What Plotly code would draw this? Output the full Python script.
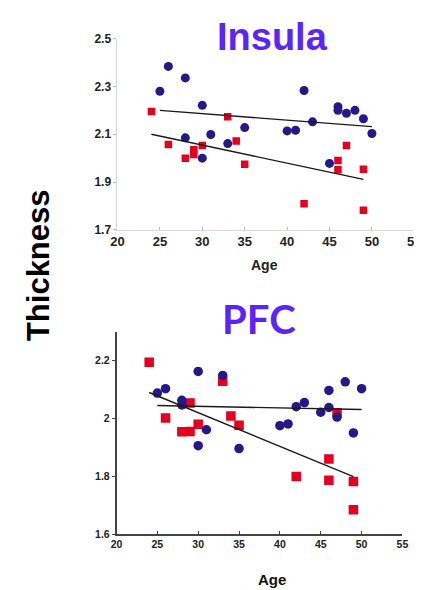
import plotly.graph_objects as go

W, H = 422, 590

# ---------------- Insula data ----------------
ins_blue_age = [25, 26, 28, 28, 30, 30, 31, 33, 35, 40, 41, 42, 43, 45, 46, 46, 47, 48, 49, 50]
ins_blue_thk = [2.28, 2.384, 2.336, 2.085, 2.221, 2.0, 2.099, 2.061, 2.128, 2.114, 2.117, 2.283,
                2.152, 1.978, 2.215, 2.2, 2.188, 2.2, 2.165, 2.103]
ins_red_age = [24, 26, 28, 29, 29, 30, 33, 34, 35, 42, 46, 46, 47, 49, 49]
ins_red_thk = [2.195, 2.057, 2.0, 2.035, 2.015, 2.053, 2.173, 2.072, 1.974, 1.809, 1.99, 1.951,
               2.053, 1.953, 1.782]
ins_blue_fit_age = [25, 50]
ins_blue_fit_thk = [2.200, 2.132]
ins_red_fit_age = [24, 49]
ins_red_fit_thk = [2.100, 1.911]

# ---------------- PFC data ----------------
pfc_blue_age = [25, 26, 28, 28, 30, 30, 31, 33, 35, 40, 41, 42, 43, 45, 46, 46, 47, 48, 49, 50]
pfc_blue_thk = [2.088, 2.103, 2.063, 2.047, 2.163, 1.906, 1.961, 2.149, 1.896, 1.975, 1.981, 2.041,
                2.055, 2.022, 2.097, 2.038, 2.005, 2.127, 1.95, 2.103]
pfc_red_age = [24, 26, 28, 29, 29, 30, 33, 34, 35, 42, 46, 46, 47, 49, 49]
pfc_red_thk = [2.195, 2.002, 1.954, 1.955, 2.054, 1.98, 2.129, 2.009, 1.977, 1.799, 1.86, 1.786,
               2.02, 1.782, 1.684]
pfc_blue_fit_age = [25, 50]
pfc_blue_fit_thk = [2.045, 2.031]
pfc_red_fit_age = [24, 49]
pfc_red_fit_thk = [2.090, 1.799]

x_ticks = [20, 25, 30, 35, 40, 45, 50, 55]
ins_y_ticks = [1.7, 1.9, 2.1, 2.3, 2.5]
ins_y_labels = ["1.7", "1.9", "2.1", "2.3", "2.5"]
pfc_y_ticks = [1.6, 1.8, 2.0, 2.2]
pfc_y_labels = ["1.6", "1.8", "2", "2.2"]

BLUE = "#24188A"
RED = "#E4001E"
TITLE = "#5B24FA"
FONT = "Liberation Sans, Arial, sans-serif"

fig = go.Figure()

# Insula (axes x/y)
fig.add_trace(go.Scatter(x=ins_blue_age, y=ins_blue_thk, mode="markers", xaxis="x", yaxis="y",
                         marker=dict(symbol="circle", size=9, color=BLUE), showlegend=False))
fig.add_trace(go.Scatter(x=ins_red_age, y=ins_red_thk, mode="markers", xaxis="x", yaxis="y",
                         marker=dict(symbol="square", size=7.5, color=RED), showlegend=False))
fig.add_trace(go.Scatter(x=ins_blue_fit_age, y=ins_blue_fit_thk, mode="lines", xaxis="x", yaxis="y",
                         line=dict(color="#1a1a1a", width=1.4), showlegend=False))
fig.add_trace(go.Scatter(x=ins_red_fit_age, y=ins_red_fit_thk, mode="lines", xaxis="x", yaxis="y",
                         line=dict(color="#1a1a1a", width=1.4), showlegend=False))

# PFC (axes x2/y2)
fig.add_trace(go.Scatter(x=pfc_red_age, y=pfc_red_thk, mode="markers", xaxis="x2", yaxis="y2",
                         marker=dict(symbol="square", size=9.5, color=RED), showlegend=False))
fig.add_trace(go.Scatter(x=pfc_blue_age, y=pfc_blue_thk, mode="markers", xaxis="x2", yaxis="y2",
                         marker=dict(symbol="circle", size=9.5, color=BLUE), showlegend=False))
fig.add_trace(go.Scatter(x=pfc_blue_fit_age, y=pfc_blue_fit_thk, mode="lines", xaxis="x2", yaxis="y2",
                         line=dict(color="#1a1a1a", width=1.4), showlegend=False))
fig.add_trace(go.Scatter(x=pfc_red_fit_age, y=pfc_red_fit_thk, mode="lines", xaxis="x2", yaxis="y2",
                         line=dict(color="#1a1a1a", width=1.4), showlegend=False))

common_axis = dict(showgrid=False, zeroline=False, showline=True, fixedrange=True)

fig.update_layout(
    width=W, height=H,
    margin=dict(l=0, r=0, t=0, b=0),
    paper_bgcolor="white", plot_bgcolor="white",
    xaxis=dict(**common_axis, domain=[106 / W, 413 / W], range=[20, 55], anchor="y",
               tickvals=x_ticks, ticktext=[str(v) for v in x_ticks],
               linecolor="#d8d8d8", linewidth=1, ticks="inside", ticklen=3, tickcolor="#bbbbbb",
               tickfont=dict(family=FONT, size=13, color="#222222", weight="bold")),
    yaxis=dict(**common_axis, domain=[1 - 220 / H, 1 - 24.3 / H], range=[1.7, 2.5], anchor="x",
               tickvals=ins_y_ticks, ticktext=ins_y_labels,
               linecolor="#d8d8d8", linewidth=1, ticks="outside", ticklen=3, tickcolor="#bbbbbb",
               tickfont=dict(family=FONT, size=12, color="#222222", weight="bold")),
    xaxis2=dict(**common_axis, domain=[105 / W, 400.7 / W], range=[20, 55], anchor="y2",
                tickvals=x_ticks, ticktext=[str(v) for v in x_ticks],
                linecolor="#444444", linewidth=1.5, ticks="inside", ticklen=3, tickcolor="#444444",
                tickfont=dict(family=FONT, size=10.5, color="#222222", weight="bold")),
    yaxis2=dict(**common_axis, domain=[1 - 531.7 / H, 1 - 324.5 / H], range=[1.6, 2.3], anchor="x2",
                tickvals=pfc_y_ticks, ticktext=pfc_y_labels,
                linecolor="#444444", linewidth=1.5, ticks="outside", ticklen=3, tickcolor="#444444",
                tickfont=dict(family=FONT, size=10.5, color="#222222", weight="bold")),
    annotations=[
        dict(text="Insula", x=266 / W, y=1.0, xref="paper", yref="paper",
             showarrow=False, xanchor="center", yanchor="top", borderpad=0,
             font=dict(family=FONT, size=38, color=TITLE, weight="bold")),
        dict(text="PFC", x=252 / W, y=1 - 311 / H, xref="paper", yref="paper",
             showarrow=False, xanchor="center", yanchor="middle",
             font=dict(family="Lato, sans-serif", size=40, color=TITLE, weight="bold")),
        dict(text="Age", x=258 / W, y=1 - 256 / H, xref="paper", yref="paper",
             showarrow=False, xanchor="center", yanchor="middle",
             font=dict(family=FONT, size=14, color="#222222", weight="bold")),
        dict(text="Age", x=266 / W, y=1 - 578 / H, xref="paper", yref="paper",
             showarrow=False, xanchor="center", yanchor="middle",
             font=dict(family=FONT, size=15, color="#111111", weight="bold")),
        dict(text="Thickness", x=25 / W, y=1 - 256 / H, xref="paper", yref="paper",
             showarrow=False, xanchor="center", yanchor="middle", textangle=-90,
             font=dict(family=FONT, size=31, color="#000000", weight="bold")),
    ],
)

fig.write_html("out.html")
